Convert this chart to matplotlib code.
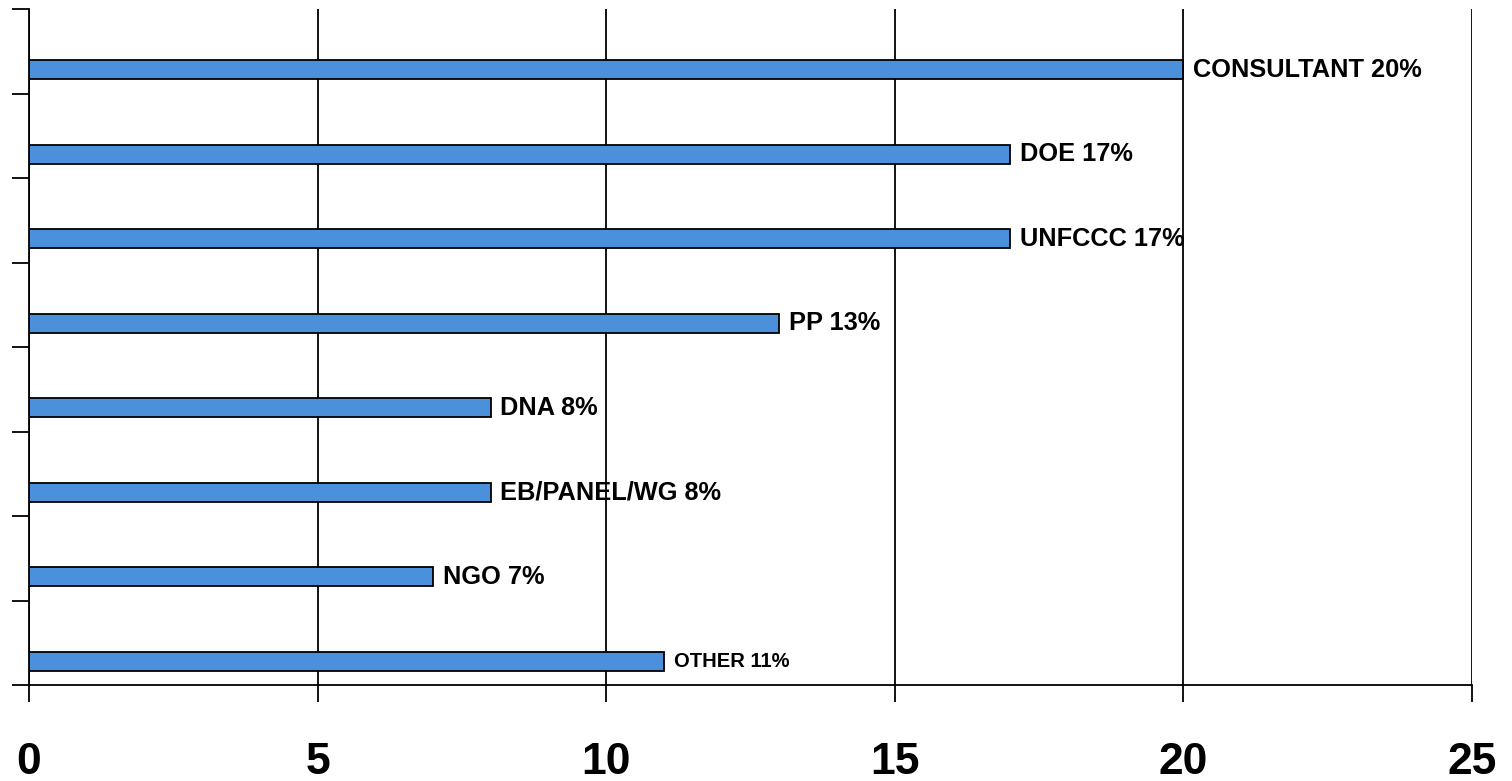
import numpy as np
import matplotlib.pyplot as plt

# categories top to bottom and their values
categories = ['CONSULTANT', 'DOE', 'UNFCCC', 'PP', 'DNA', 'EB/PANEL/WG', 'NGO', 'OTHER']
values = [20, 17, 17, 13, 8, 8, 7, 11]
labels = ['CONSULTANT 20%', 'DOE 17%', 'UNFCCC 17%', 'PP 13%', 'DNA 8%',
          'EB/PANEL/WG 8%', 'NGO 7%', 'OTHER 11%']
x_ticks = [0, 5, 10, 15, 20, 25]

plt.rcParams['font.family'] = ['Liberation Sans', 'DejaVu Sans']

fig = plt.figure(figsize=(15.12, 7.81), dpi=100)
ax = fig.add_axes([29 / 1512, 1 - 685 / 781, (1472 - 29) / 1512, (685 - 9) / 781])

idx = np.arange(len(categories))
# bars sit in the lower part of each band
ax.barh(idx + 0.22, values, height=0.225, color='#4A90DA',
        edgecolor='black', linewidth=1.3, zorder=2)

for i, (v, lab) in enumerate(zip(values, labels)):
    size = 14.5 if lab.startswith('OTHER') else 18.3
    ax.annotate(lab, (v, i + 0.22), xytext=(7, 0), textcoords='offset points',
                ha='left', va='center', fontsize=size, fontweight='bold',
                zorder=0.3)

ax.set_xlim(0, 25)
ax.set_ylim(len(categories) - 0.5, -0.5)
ax.set_xticks(x_ticks)
ax.set_xticklabels([str(t) for t in x_ticks], fontsize=32, fontweight='bold')
ax.set_yticks(np.arange(len(categories) + 1) - 0.5)
ax.set_yticklabels([])

ax.set_axisbelow(True)
ax.xaxis.grid(True, color='black', linewidth=1.3)

ax.spines['top'].set_visible(False)
ax.spines['right'].set_visible(False)
for s in ['left', 'bottom']:
    ax.spines[s].set_linewidth(1.3)
ax.tick_params(axis='both', direction='out', length=12.2, width=1.3, color='black')
ax.tick_params(axis='x', pad=29)

fig.savefig('out.png', dpi=100)
